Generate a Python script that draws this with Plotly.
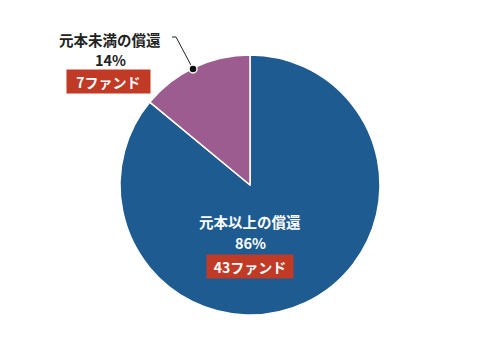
import plotly.graph_objects as go

labels = ["元本以上の償還", "元本未満の償還"]
shares = [86, 14]
funds = ["43ファンド", "7ファンド"]
colors = ["#1e5b91", "#9d5c90"]

W, H = 500, 340
cx, cy, r = 250, 185, 130

fig = go.Figure(go.Pie(
    labels=labels, values=shares, sort=False, direction="clockwise", rotation=0,
    marker=dict(colors=colors, line=dict(color="white", width=1.5)),
    textinfo="none", hoverinfo="label+percent", showlegend=False,
    domain=dict(x=[(cx - r) / W, (cx + r) / W], y=[(H - cy - r) / H, (H - cy + r) / H]),
))

font = "Noto Sans CJK JP, Noto Sans, sans-serif"

def px(x, y):
    return x / W, 1 - y / H

anns = []
for (x, y), txt, col in [((250, 221), f"<b>{labels[0]}</b>", "white"),
                         ((250, 242), f"<b>{shares[0]}%</b>", "white"),
                         ((110, 39), f"<b>{labels[1]}</b>", "#222"),
                         ((110, 59), f"<b>{shares[1]}%</b>", "#222")]:
    ax, ay = px(x, y)
    anns.append(dict(x=ax, y=ay, xref="paper", yref="paper", text=txt, showarrow=False,
                     font=dict(family=font, size=14.5, color=col), xanchor="center", yanchor="middle"))
for (x, y), txt, w in [((250, 266), funds[0], 80), ((108, 81), funds[1], 77)]:
    ax, ay = px(x, y)
    anns.append(dict(x=ax, y=ay, xref="paper", yref="paper", text=f"<b>{txt}</b>", showarrow=False,
                     font=dict(family=font, size=14, color="white"), bgcolor="#c13a25",
                     borderpad=3, width=w, height=17, xanchor="center", yanchor="middle"))

shapes = [
    dict(type="path", xref="paper", yref="paper",
         path="M {:.4f} {:.4f} L {:.4f} {:.4f} L {:.4f} {:.4f}".format(*px(172, 37), *px(176, 37), *px(193, 69)),
         line=dict(color="#222", width=1)),
    dict(type="circle", xref="paper", yref="paper",
         x0=189 / W, x1=197 / W, y0=1 - 73 / H, y1=1 - 65 / H,
         fillcolor="#111", line=dict(color="white", width=1.5)),
]

fig.update_layout(width=W, height=H, margin=dict(l=0, r=0, t=0, b=0),
                  paper_bgcolor="white", plot_bgcolor="white",
                  annotations=anns, shapes=shapes)
fig.write_html("out.html")
